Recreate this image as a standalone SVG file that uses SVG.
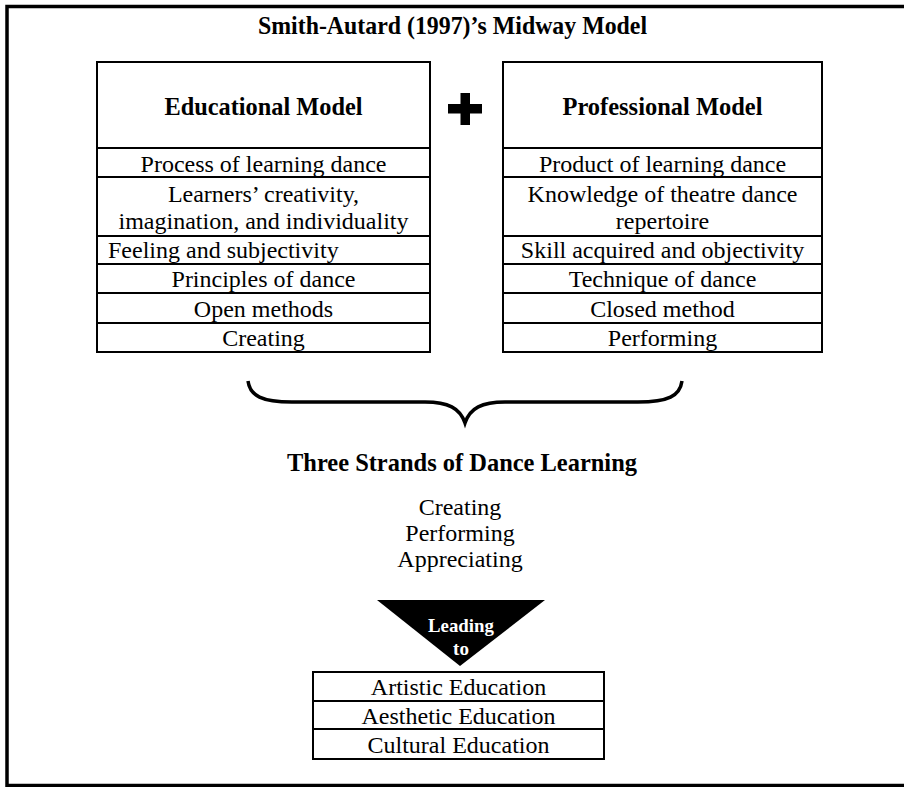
<svg xmlns="http://www.w3.org/2000/svg" width="904" height="787" viewBox="0 0 904 787">
  <style>
    .box { fill: #fff; stroke: #000; stroke-width: 2; }
    .rule { stroke: #000; stroke-width: 2; }
    .t { font-family: "Liberation Serif", "Times New Roman", serif; font-size: 24px; fill: #000; text-anchor: middle; }
    .b { font-family: "Liberation Serif", "Times New Roman", serif; font-size: 26px; font-weight: bold; fill: #000; text-anchor: middle; }
    .w { font-family: "Liberation Serif", "Times New Roman", serif; font-size: 19px; font-weight: bold; fill: #fff; text-anchor: middle; }
  </style>

  <rect x="0" y="0" width="904" height="787" fill="#fff"/>
  <!-- outer frame (right edge runs off the canvas) -->
  <rect x="7" y="6.5" width="910" height="779" fill="none" stroke="#000" stroke-width="3.5"/>

  <g id="title">
    <text class="b" x="452.5" y="34" textLength="389" lengthAdjust="spacingAndGlyphs">Smith-Autard (1997)’s Midway Model</text>
  </g>

  <g id="educational-model">
    <rect class="box" x="97" y="62" width="333" height="290"/>
    <line class="rule" x1="97" y1="148" x2="430" y2="148"/>
    <line class="rule" x1="97" y1="177" x2="430" y2="177"/>
    <line class="rule" x1="97" y1="236" x2="430" y2="236"/>
    <line class="rule" x1="97" y1="264" x2="430" y2="264"/>
    <line class="rule" x1="97" y1="293" x2="430" y2="293"/>
    <line class="rule" x1="97" y1="323" x2="430" y2="323"/>
    <text class="b" x="263.5" y="115" textLength="198" lengthAdjust="spacingAndGlyphs">Educational Model</text>
    <text class="t" x="263.5" y="171.5">Process of learning dance</text>
    <text class="t" x="263.5" y="202">Learners’ creativity,</text>
    <text class="t" x="263.5" y="228.5">imagination, and individuality</text>
    <text class="t" x="108" y="258" style="text-anchor:start">Feeling and subjectivity</text>
    <text class="t" x="263.5" y="287">Principles of dance</text>
    <text class="t" x="263.5" y="317">Open methods</text>
    <text class="t" x="263.5" y="345.5">Creating</text>
  </g>

  <g id="plus">
    <rect x="448" y="104" width="34" height="9.5" fill="#000"/>
    <rect x="460.5" y="93" width="9.5" height="32" fill="#000"/>
  </g>

  <g id="professional-model">
    <rect class="box" x="503" y="62" width="319" height="290"/>
    <line class="rule" x1="503" y1="148" x2="822" y2="148"/>
    <line class="rule" x1="503" y1="177" x2="822" y2="177"/>
    <line class="rule" x1="503" y1="236" x2="822" y2="236"/>
    <line class="rule" x1="503" y1="264" x2="822" y2="264"/>
    <line class="rule" x1="503" y1="293" x2="822" y2="293"/>
    <line class="rule" x1="503" y1="323" x2="822" y2="323"/>
    <text class="b" x="662.5" y="115" textLength="200" lengthAdjust="spacingAndGlyphs">Professional Model</text>
    <text class="t" x="662.5" y="171.5">Product of learning dance</text>
    <text class="t" x="662.5" y="202">Knowledge of theatre dance</text>
    <text class="t" x="662.5" y="228.5">repertoire</text>
    <text class="t" x="662.5" y="258">Skill acquired and objectivity</text>
    <text class="t" x="662.5" y="287">Technique of dance</text>
    <text class="t" x="662.5" y="317">Closed method</text>
    <text class="t" x="662.5" y="345.5">Performing</text>
  </g>

  <g id="connectors">
    <!-- curly brace joining both models -->
    <path d="M248,381 C250,396 262,402 292,402 L425,402 C448,402 460,408 465,423 C470,408 482,402 505,402 L638,402 C668,402 680,396 682,381" fill="none" stroke="#000" stroke-width="3.5"/>
  </g>

  <g id="three-strands">
    <text class="b" x="462" y="471" textLength="350" lengthAdjust="spacingAndGlyphs">Three Strands of Dance Learning</text>
    <text class="t" x="460" y="515">Creating</text>
    <text class="t" x="460" y="541">Performing</text>
    <text class="t" x="460" y="567">Appreciating</text>
  </g>

  <g id="leading-to">
    <polygon points="377,600 545,600 460,666" fill="#000"/>
    <text class="w" x="461" y="632" textLength="66" lengthAdjust="spacingAndGlyphs">Leading</text>
    <text class="w" x="461" y="655">to</text>
  </g>

  <g id="education">
    <rect class="box" x="313" y="672" width="291" height="87"/>
    <line class="rule" x1="313" y1="701" x2="604" y2="701"/>
    <line class="rule" x1="313" y1="729" x2="604" y2="729"/>
    <text class="t" x="458.5" y="695">Artistic Education</text>
    <text class="t" x="458.5" y="723.5">Aesthetic Education</text>
    <text class="t" x="458.5" y="752.5">Cultural Education</text>
  </g>
</svg>
